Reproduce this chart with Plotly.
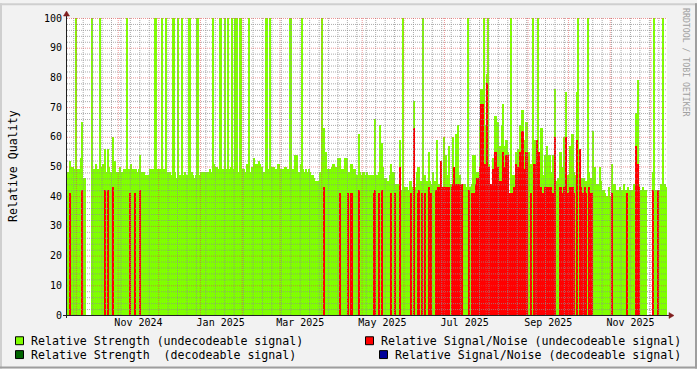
import plotly.graph_objects as go
import pandas as pd

_ = None

# ---------------- data (one value per day) ----------------
start_date = "2024-09-24"

strength_undecodeable = [
    48, 48, 52, 50, 50, 49, 100, 49, 49, 49,
    53, 65, 46, 46, _, _, _, _, 100, 49,
    49, 51, 49, 49, 100, 50, 51, 49, 56, 48,
    56, 50, 48, 48, 60, 52, 48, 48, 48, 50,
    48, 48, 49, 49, 100, 49, 49, 51, 49, 49,
    49, 49, 48, 49, 54, 48, 46, 48, 47, 47,
    47, 49, 49, 49, 49, 100, 100, 49, 49, 49,
    100, 49, 49, 100, 48, 48, 48, 47, 100, 100,
    48, 46, 100, 47, 47, 100, 47, 48, 47, 47,
    100, 100, 48, 47, 46, 47, 100, 100, 47, 48,
    48, 48, 47, 48, 48, 48, 49, 48, 100, 51,
    50, 50, 49, 100, 100, 49, 48, 100, 49, 100,
    49, 50, 100, 49, 100, 49, 100, 48, 100, 100,
    49, 49, 48, 51, 49, 100, 48, 50, 53, 49,
    51, 51, 52, 51, 50, 48, 48, 100, 100, 49,
    100, 50, 50, 50, 49, 49, 51, 51, 49, 49,
    49, 50, 50, 49, 49, 100, 100, 49, 48, 54,
    54, 48, 48, 51, 100, 49, 48, 49, 48, 49,
    48, 47, 47, 46, 45, 45, 45, 48, 48, 100,
    63, 51, 55, 49, 49, 49, 50, 51, 51, 50,
    49, 53, 53, 49, 49, 49, 53, 53, 48, 48,
    51, 51, 49, 49, 47, 47, 61, 48, 47, 48,
    48, 47, 48, 47, 47, 47, 47, 47, 66, 47,
    47, 48, 64, 58, 50, 46, 46, 45, 45, 47,
    51, 48, 48, 44, 44, 44, 44, 59, 42, 100,
    43, 43, 43, 42, 45, 45, 43, 72, 43, 48,
    50, 50, 45, 45, 100, 47, 45, 45, 55, 45,
    44, 48, 45, 45, 59, 44, 44, 52, 42, 60,
    50, 54, 47, 57, 44, 44, 60, 50, 61, 50,
    64, 47, 44, 44, 44, 44, 43, 100, 43, 43,
    44, 54, 54, 44, 48, 48, 66, 76, 76, 100,
    64, 81, 100, 51, 44, 44, 53, 67, 67, 65,
    57, 57, 64, 71, 57, 59, 59, 55, 41, 100,
    47, 47, 47, 55, 56, 56, 64, 69, 69, 59,
    65, 65, 55, 51, 51, 100, 59, 59, 55, 100,
    55, 63, 63, 47, 54, 54, 57, 54, 54, 48,
    54, 54, 76, 45, 46, 55, 55, 50, 60, 60,
    75, 47, 47, 57, 61, 61, 48, 47, 75, 100,
    55, 46, 46, 46, 45, 45, 100, 48, 46, 46,
    62, 50, 44, 44, 44, 50, 45, 42, 42, 41,
    40, 40, 43, 40, 51, 44, 44, 41, 42, 42,
    43, 42, 42, 44, 42, 42, 43, 42, 42, 42,
    44, 44, 68, 79, 44, 42, 42, 43, 42, 42,
    _, _, _, _, 48, 100, 42, 42, 42, 42,
    44, 44, 100, 44, 43,
]

snr_undecodeable = [
    _, _, 41, _, _, _, _, _, _, _,
    _, 42, _, _, _, _, _, _, _, _,
    _, _, _, _, _, _, _, _, 42, _,
    42, _, _, _, 43, _, _, _, _, _,
    _, _, _, _, _, _, 41, _, _, _,
    41, _, _, _, 42, _, _, _, _, _,
    _, _, _, _, _, _, _, _, _, _,
    _, _, _, _, _, _, _, _, _, _,
    _, _, _, _, _, _, _, _, _, _,
    _, _, _, _, _, _, _, _, _, _,
    _, _, _, _, _, _, _, _, _, _,
    _, _, _, _, _, _, _, _, _, _,
    _, _, _, _, _, _, _, _, _, _,
    _, _, _, _, _, _, _, _, _, _,
    _, _, _, _, _, _, _, _, _, _,
    _, _, _, _, _, _, _, _, _, _,
    _, _, _, _, _, _, _, _, _, _,
    _, _, _, _, _, _, _, _, _, _,
    _, _, _, _, _, _, _, _, _, _,
    43, _, _, _, _, _, _, _, _, _,
    _, _, 41, _, _, _, _, _, 41, _,
    41, 41, _, _, _, _, 42, _, _, _,
    _, _, _, _, _, _, _, 41, 42, _,
    _, 41, _, 42, _, _, _, _, _, _,
    41, _, _, 41, _, _, _, 50, _, _,
    _, _, _, _, _, 41, _, 63, _, _,
    41, 42, _, 41, _, 41, _, _, 43, _,
    41, _, _, 42, _, 43, 43, 52, 43, 43,
    43, 43, 43, 43, _, 43, 44, 50, 44, 44,
    44, 44, 44, 44, _, _, _, _, 42, _,
    41, 41, 41, 44, 46, 46, 50, 71, 71, _,
    51, 78, 50, 50, 44, 44, 49, 55, 55, 50,
    45, 45, 45, 55, 50, 54, 54, 54, 41, _,
    41, 43, 43, 51, 50, 50, 55, 62, 62, 49,
    55, 55, _, _, 41, _, 51, 51, 59, _,
    55, 43, _, 41, 43, 43, 43, 43, 43, 43,
    41, 41, 60, _, _, 43, 43, 41, 43, _,
    60, 41, 41, 43, 43, 43, 41, _, 59, _,
    56, 43, 41, 41, 43, 41, _, 43, 41, 41,
    _, _, _, _, _, _, _, _, _, _,
    _, _, _, _, 41, _, _, _, _, _,
    _, _, _, _, _, 41, _, _, _, _,
    _, _, 57, 51, 43, _, _, _, _, _,
    _, _, _, _, 42, _, _, _, 42, _,
    _, _, _, _, _,
]

x_tick_dates = ["2024-11-16", "2025-01-16", "2025-03-16", "2025-05-16",
                "2025-07-16", "2025-09-16", "2025-11-16"]
x_tick_labels = ["Nov 2024", "Jan 2025", "Mar 2025", "May 2025",
                 "Jul 2025", "Sep 2025", "Nov 2025"]
y_tick_values = [0, 10, 20, 30, 40, 50, 60, 70, 80, 90, 100]

legend_labels = [
    "Relative Strength (undecodeable signal)",
    "Relative Signal/Noise (undecodeable signal)",
    "Relative Strength  (decodeable signal)",
    "Relative Signal/Noise (decodeable signal)",
]

# ---------------- styling ----------------
GREEN = "#80FF00"
RED = "#FF0000"
DKGREEN = "#006400"
BLUE = "#000099"
FONT = "DejaVu Sans Mono"
GRID = "rgba(143,143,143,0.75)"
MGRID = "rgba(222,79,79,0.6)"

W, H = 697, 369
L, Rm, T, B = 67, 30, 15, 54
PW, PH = W - L - Rm, H - T - B


def px(xp):
    return (xp - L) / PW


def py(yp):
    return (H - B - yp) / PH


days = pd.date_range(start_date, periods=len(strength_undecodeable), freq="D")
centers = days + pd.Timedelta(hours=12)
x_start = pd.Timestamp(start_date)
x_end = x_start + pd.Timedelta(days=445.1)
DAY_MS = 86400000

fig = go.Figure()
# opacity just below 1 makes plotly snap bar edges to whole pixels (crisp 1-2 px columns)
fig.add_trace(go.Bar(x=centers, y=strength_undecodeable, width=DAY_MS,
                     marker=dict(color=GREEN, line=dict(width=0)), opacity=0.999,
                     name=legend_labels[0], showlegend=False))
fig.add_trace(go.Bar(x=centers, y=snr_undecodeable, width=DAY_MS,
                     marker=dict(color=RED, line=dict(width=0)), opacity=0.999,
                     name=legend_labels[1], showlegend=False))

shapes = []
# grid (drawn on top of data, rrdtool style)
month_lines = list(pd.date_range("2024-10-01", x_end, freq="MS"))
week_lines = [d for d in pd.date_range("2024-09-29", x_end, freq="7D") if d not in month_lines]
for d in week_lines:
    shapes.append(dict(type="line", xref="x", yref="paper", x0=d, x1=d, y0=0, y1=1,
                       line=dict(color=GRID, width=1, dash="1px,1px"), layer="above"))
for d in month_lines:
    shapes.append(dict(type="line", xref="x", yref="paper", x0=d, x1=d, y0=0, y1=1,
                       line=dict(color=MGRID, width=1, dash="1px,1px"), layer="above"))
for v in range(2, 101, 2):
    ypix = (H - B) - v * PH / 100 + 0.5
    col = MGRID if v % 10 == 0 else GRID
    shapes.append(dict(type="line", xref="paper", yref="paper", x0=0, x1=1,
                       y0=py(ypix), y1=py(ypix),
                       line=dict(color=col, width=1, dash="1px,1px"), layer="above"))

# axes + arrows
AX = "#1F1F1F"
ARROW = "#801F1F"
shapes.append(dict(type="line", xref="paper", yref="paper", x0=px(63), x1=px(669),
                   y0=py(315.5), y1=py(315.5), line=dict(color=AX, width=1), layer="above"))
shapes.append(dict(type="line", xref="paper", yref="paper", x0=px(66.5), x1=px(66.5),
                   y0=py(318), y1=py(11), line=dict(color=AX, width=1), layer="above"))
shapes.append(dict(type="path", xref="paper", yref="paper",
                   path=f"M {px(669)},{py(312.5)} L {px(674)},{py(315.5)} L {px(669)},{py(318.5)} Z",
                   fillcolor=ARROW, line=dict(color=ARROW, width=0.5), layer="above"))
shapes.append(dict(type="path", xref="paper", yref="paper",
                   path=f"M {px(63.5)},{py(13)} L {px(66.5)},{py(8)} L {px(69.5)},{py(13)} Z",
                   fillcolor=ARROW, line=dict(color=ARROW, width=0.5), layer="above"))

# frame
shapes.append(dict(type="rect", xref="paper", yref="paper", x0=px(0), x1=px(W), y0=py(0), y1=py(2),
                   fillcolor="#CFCFCF", line=dict(width=0), layer="above"))
shapes.append(dict(type="rect", xref="paper", yref="paper", x0=px(0), x1=px(2), y0=py(0), y1=py(H),
                   fillcolor="#CFCFCF", line=dict(width=0), layer="above"))
shapes.append(dict(type="rect", xref="paper", yref="paper", x0=px(0), x1=px(W), y0=py(H - 2), y1=py(H),
                   fillcolor="#9E9E9E", line=dict(width=0), layer="above"))
shapes.append(dict(type="rect", xref="paper", yref="paper", x0=px(W - 2), x1=px(W), y0=py(0), y1=py(H),
                   fillcolor="#9E9E9E", line=dict(width=0), layer="above"))

# legend (rrdtool style)
legend_colors = [GREEN, RED, DKGREEN, BLUE]
legend_pos = [(15, 30, 341), (365, 380, 341), (15, 30, 355), (379, 394, 355)]
annotations = []
for lab, col, (sx, tx, cy) in zip(legend_labels, legend_colors, legend_pos):
    shapes.append(dict(type="rect", xref="paper", yref="paper",
                       x0=px(sx + 0.5), x1=px(sx + 8.5), y0=py(cy - 4), y1=py(cy + 4),
                       fillcolor=col, line=dict(color="#000000", width=1), layer="above"))
    annotations.append(dict(text=lab, xref="paper", yref="paper", x=px(tx - 1), y=py(cy + 0.5),
                            xanchor="left", yanchor="middle", showarrow=False,
                            font=dict(family=FONT, size=11.6, color="#000000")))

annotations.append(dict(text="Relative Quality", xref="paper", yref="paper", x=px(12.5), y=py(165),
                        xanchor="center", yanchor="middle", textangle=-90, showarrow=False,
                        font=dict(family=FONT, size=11.6, color="#000000")))
annotations.append(dict(text="RRDTOOL / TOBI OETIKER", xref="paper", yref="paper", x=px(686.5), y=py(60),
                        xanchor="center", yanchor="middle", textangle=90, showarrow=False,
                        font=dict(family=FONT, size=8.2, color="#A0A0A0")))

fig.update_layout(
    width=W, height=H,
    margin=dict(l=L, r=Rm, t=T, b=B, pad=0),
    paper_bgcolor="#F2F2F2", plot_bgcolor="#FFFFFF",
    barmode="overlay", bargap=0, showlegend=False,
    shapes=shapes, annotations=annotations,
    xaxis=dict(type="date", range=[x_start, x_end], tickmode="array",
               tickvals=x_tick_dates, ticktext=x_tick_labels, ticks="",
               showgrid=False, zeroline=False, showline=False, fixedrange=True,
               tickfont=dict(family=FONT, size=10, color="#000000")),
    yaxis=dict(range=[0, 100], tickmode="array", tickvals=y_tick_values, ticks="",
               showgrid=False, zeroline=False, showline=False, fixedrange=True,
               ticklabelstandoff=4,
               tickfont=dict(family=FONT, size=10, color="#000000")),
)

fig.write_html("out.html")
